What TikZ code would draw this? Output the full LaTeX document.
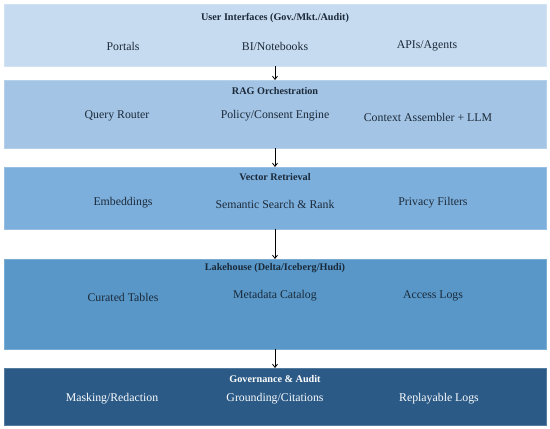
\documentclass[tikz,border=0pt]{standalone}
\usepackage{fontspec}
\setmainfont{Liberation Serif}
\usetikzlibrary{arrows.meta}
\definecolor{cA}{HTML}{C6DBEF}
\definecolor{cB}{HTML}{A3C4E4}
\definecolor{cC}{HTML}{7DAFDC}
\definecolor{cD}{HTML}{5897C8}
\definecolor{cE}{HTML}{2B5A86}
\definecolor{txt}{HTML}{1B2A3A}
\tikzset{
  layer/.style={draw=#1!80!white, line width=0.6pt, fill=#1},
  ttl/.style={font=\fontsize{10.2}{12}\selectfont\bfseries, text=txt, anchor=center, inner sep=0pt},
  itm/.style={font=\fontsize{11.8}{13}\selectfont, text=txt, anchor=center, inner sep=0pt},
  wttl/.style={ttl, text=white},
  witm/.style={itm, text=white!92!cA},
  flow/.style={-{Straight Barb[length=3.2pt,width=5pt]}, line width=0.8pt, black}
}
\begin{document}
\begin{tikzpicture}[x=1pt,y=-1pt]
\useasboundingbox (0,0) rectangle (550,429);
% layers
\path[layer=cA] (4,4) rectangle (546,66);
\path[layer=cB] (4,80) rectangle (546,148);
\path[layer=cC] (4,167) rectangle (546,229);
\path[layer=cD] (4,259) rectangle (546,349);
\path[layer=cE] (4,368) rectangle (546,425);
% box anchors
\coordinate (b1) at (275,66);  \coordinate (t2) at (275,80);
\coordinate (b2) at (275,148); \coordinate (t3) at (275,167);
\coordinate (b3) at (275,229); \coordinate (t4) at (275,259);
\coordinate (b4) at (275,349); \coordinate (t5) at (275,368);
% layer 1
\node[ttl] (h1) at (275,18) {User Interfaces (Gov./Mkt./Audit)};
\node[itm] (p1) at (123,46) {Portals};
\node[itm] (p2) at (275,46) {BI/Notebooks};
\node[itm] (p3) at (427,46) {APIs/Agents};
% layer 2
\node[ttl] (h2) at (275,91) {RAG Orchestration};
\node[itm] (q1) at (117,116) {Query Router};
\node[itm] (q2) at (275,116) {Policy/Consent Engine};
\node[itm] (q3) at (428,117) {Context Assembler + LLM};
% layer 3
\node[ttl] (h3) at (275,177) {Vector Retrieval};
\node[itm] (r1) at (123,203) {Embeddings};
\node[itm] (r2) at (275,204) {Semantic Search \& Rank};
\node[itm] (r3) at (433,203) {Privacy Filters};
% layer 4
\node[ttl] (h4) at (275,268) {Lakehouse (Delta/Iceberg/Hudi)};
\node[itm] (s1) at (123,297) {Curated Tables};
\node[itm] (s2) at (275,296) {Metadata Catalog};
\node[itm] (s3) at (433,296) {Access Logs};
% layer 5
\node[wttl] (h5) at (275,379) {Governance \& Audit};
\node[witm] (g1) at (112,399) {Masking/Redaction};
\node[witm] (g2) at (275,399) {Grounding/Citations};
\node[witm] (g3) at (439,399) {Replayable Logs};
% arrows
\draw[flow] (b1) -- (t2);
\draw[flow] (b2) -- (t3);
\draw[flow] (b3) -- (t4);
\draw[flow] (b4) -- (t5);
\end{tikzpicture}
\end{document}
